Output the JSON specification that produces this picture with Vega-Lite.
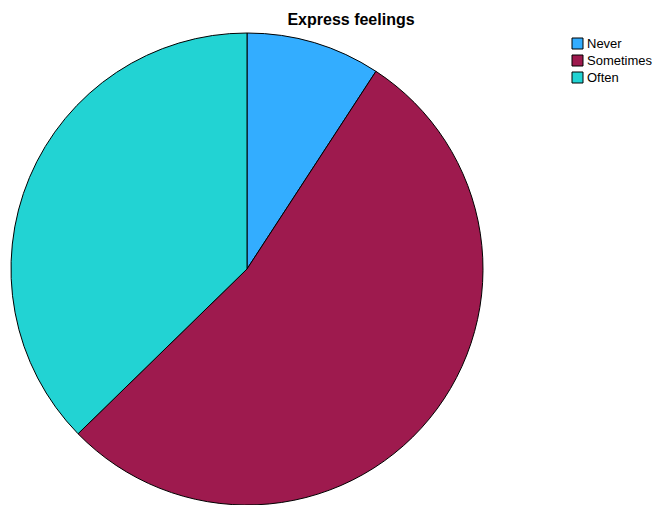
{
  "$schema": "https://vega.github.io/schema/vega-lite/v6.json",
  "width": 494,
  "height": 478,
  "autosize": {"type": "none"},
  "padding": {"left": 0, "top": 30, "right": 160, "bottom": 0},
  "background": "white",
  "config": {"view": {"stroke": null}, "font": "Liberation Sans"},
  "title": {
    "text": "Express feelings",
    "fontSize": 16,
    "fontWeight": "bold",
    "font": "Liberation Sans",
    "color": "#000000",
    "anchor": "middle",
    "dx": 104,
    "offset": 2
  },
  "data": {
    "values": [
      {"category": "Never", "percent": 9.2, "rank": 1},
      {"category": "Sometimes", "percent": 53.5, "rank": 2},
      {"category": "Often", "percent": 37.3, "rank": 3}
    ]
  },
  "mark": {"type": "arc", "outerRadius": 236, "stroke": "#000000", "strokeWidth": 1},
  "encoding": {
    "theta": {"field": "percent", "type": "quantitative", "stack": true},
    "order": {"field": "rank", "type": "quantitative"},
    "color": {
      "field": "category",
      "type": "nominal",
      "scale": {"domain": ["Never", "Sometimes", "Often"], "range": ["#33ADFF", "#9E1A4E", "#22D3D3"]},
      "legend": {
        "title": null,
        "orient": "none",
        "legendX": 571,
        "legendY": 7,
        "symbolType": "square",
        "symbolSize": 121,
        "symbolStrokeColor": "#000000",
        "symbolStrokeWidth": 1,
        "symbolOpacity": 1,
        "labelFontSize": 13,
        "labelFont": "Liberation Sans",
        "labelColor": "#000000",
        "labelOffset": 3,
        "rowPadding": 2
      }
    }
  }
}
